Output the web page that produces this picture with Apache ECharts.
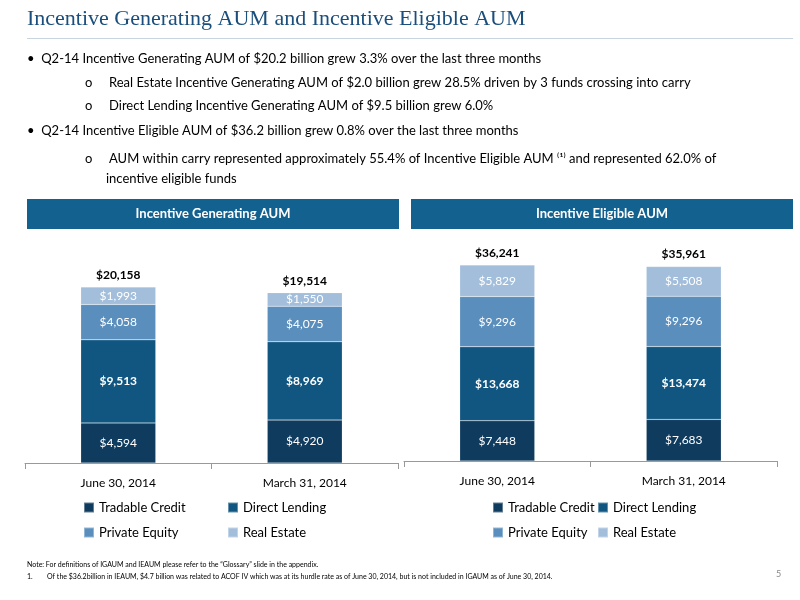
<!DOCTYPE html>
<html>
<head>
<meta charset="UTF-8" />
<script src="https://cdn.jsdelivr.net/npm/echarts/dist/echarts.min.js"></script>
<style>
  html, body { margin: 0; background: #fff; }
  #main { width: 800px; height: 600px; }
</style>
</head>
<body>
<div id="main"></div>
<script>
const categories = ["June 30, 2014", "March 31, 2014"]
const seriesNames = ["Tradable Credit", "Direct Lending", "Private Equity", "Real Estate"]
const colors = ["#0f3b5f", "#115680", "#5a8ebd", "#a2bedb"]

// Incentive Generating AUM ($ millions)
const igTradable = [4594, 4920]
const igDirect = [9513, 8969]
const igPrivate = [4058, 4075]
const igReal = [1993, 1550]
const igTotals = [20158, 19514]

// Incentive Eligible AUM ($ millions)
const ieTradable = [7448, 7683]
const ieDirect = [13668, 13474]
const iePrivate = [9296, 9296]
const ieReal = [5829, 5508]
const ieTotals = [36241, 35961]

const font = "Lato"
const fmt = v => "$" + v.toLocaleString("en-US")

function stackSeries(gridIdx, groups, totals) {
  const out = groups.map((data, i) => ({
    name: seriesNames[i],
    type: "bar",
    stack: "s" + gridIdx,
    xAxisIndex: gridIdx,
    yAxisIndex: gridIdx,
    barWidth: 75,
    data: data,
    itemStyle: { color: colors[i], borderColor: "rgba(255,255,255,0.35)", borderWidth: 0.5 },
    label: {
      show: true,
      color: "#fff",
      fontFamily: font,
      fontSize: 12,
      fontWeight: i === 1 ? "bold" : "normal",
      formatter: p => fmt(p.value)
    }
  }))
  out.push({
    name: "total",
    type: "bar",
    stack: "s" + gridIdx,
    xAxisIndex: gridIdx,
    yAxisIndex: gridIdx,
    barWidth: 75,
    data: totals.map(() => 0),
    label: {
      show: true,
      position: "top",
      distance: 6,
      color: "#000",
      fontFamily: font,
      fontSize: 12,
      fontWeight: "bold",
      formatter: p => fmt(totals[p.dataIndex])
    }
  })
  return out
}

const chart = echarts.init(document.getElementById("main"))

const bullet = (x, y, t, size) => ({
  type: "text", left: x, top: y,
  style: { text: t, font: (size || 13) + "px " + font, fill: "#000" }
})

const xAxisBase = {
  type: "category",
  data: categories,
  axisLine: { lineStyle: { color: "#999" } },
  axisTick: { show: true, length: 6, lineStyle: { color: "#999" } },
  axisLabel: { color: "#000", fontFamily: font, fontSize: 12, margin: 14 }
}
const yAxisBase = { type: "value", min: 0, show: false, splitLine: { show: false } }

const legendBase = {
  orient: "vertical",
  itemWidth: 10,
  itemHeight: 10,
  itemGap: 12,
  icon: "rect",
  textStyle: { fontFamily: font, fontSize: 13, color: "#000" }
}

chart.setOption({
  animation: false,
  grid: [
    { left: 25, width: 373, top: 230, bottom: 137 },
    { left: 404, width: 373, top: 230, bottom: 139 }
  ],
  xAxis: [Object.assign({ gridIndex: 0 }, xAxisBase), Object.assign({ gridIndex: 1 }, xAxisBase)],
  yAxis: [
    Object.assign({ gridIndex: 0, max: 26690 }, yAxisBase),
    Object.assign({ gridIndex: 1, max: 42710 }, yAxisBase)
  ],
  legend: [
    Object.assign({ left: 78, top: 496, data: [seriesNames[0], seriesNames[2]] }, legendBase),
    Object.assign({ left: 222, top: 496, data: [seriesNames[1], seriesNames[3]] }, legendBase),
    Object.assign({ left: 487, top: 496, data: [seriesNames[0], seriesNames[2]] }, legendBase),
    Object.assign({ left: 592, top: 496, data: [seriesNames[1], seriesNames[3]] }, legendBase)
  ],
  series: stackSeries(0, [igTradable, igDirect, igPrivate, igReal], igTotals)
    .concat(stackSeries(1, [ieTradable, ieDirect, iePrivate, ieReal], ieTotals)),
  graphic: [
    { type: "text", left: 27, top: 8,
      style: { text: "Incentive Generating AUM and Incentive Eligible AUM",
        font: "22px 'Liberation Serif'", fill: "#1a4e7c" } },
    { type: "rect", shape: { x: 27, y: 38, width: 766, height: 1 }, style: { fill: "#c8d4e0" } },
    bullet(27, 52, "•  Q2-14 Incentive Generating AUM of $20.2 billion grew 3.3% over the last three months"),
    bullet(85, 76, "o     Real Estate Incentive Generating AUM of $2.0 billion grew 28.5% driven by 3 funds crossing into carry"),
    bullet(85, 99, "o     Direct Lending Incentive Generating AUM of $9.5 billion grew 6.0%"),
    bullet(27, 124, "•  Q2-14 Incentive Eligible AUM of $36.2 billion grew 0.8% over the last three months"),
    bullet(85, 152, "o     AUM within carry represented approximately 55.4% of Incentive Eligible AUM ⁽¹⁾ and represented 62.0% of"),
    bullet(106, 172, "incentive eligible funds"),
    { type: "rect", shape: { x: 27, y: 199, width: 372, height: 30 }, style: { fill: "#12618f" } },
    { type: "rect", shape: { x: 411, y: 199, width: 382, height: 30 }, style: { fill: "#12618f" } },
    { type: "text", x: 213, y: 214,
      style: { text: "Incentive Generating AUM", font: "bold 13px " + font, fill: "#fff", align: "center", verticalAlign: "middle" } },
    { type: "text", x: 602, y: 214,
      style: { text: "Incentive Eligible AUM", font: "bold 13px " + font, fill: "#fff", align: "center", verticalAlign: "middle" } },
    { type: "text", left: 27, top: 561,
      style: { text: "Note: For definitions of IGAUM and IEAUM please refer to the \u201cGlossary\u201d slide in the appendix.", font: "7px " + font, fill: "#000" } },
    { type: "text", left: 27, top: 573,
      style: { text: "1.        Of the $36.2billion in IEAUM, $4.7 billion was related to ACOF IV which was at its hurdle rate as of June 30, 2014, but is not included in IGAUM as of June 30, 2014.", font: "7px " + font, fill: "#000" } },
    { type: "text", left: 776, top: 570, style: { text: "5", font: "9px " + font, fill: "#888" } }
  ]
})
</script>
</body>
</html>
